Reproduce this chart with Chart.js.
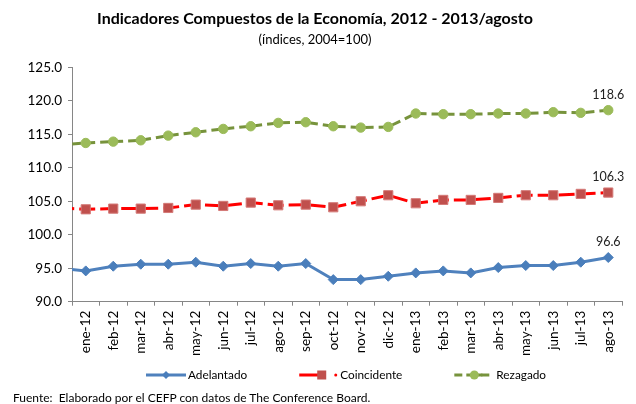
<!DOCTYPE html>
<html>
<head>
<meta charset="utf-8">
<script src="https://cdn.jsdelivr.net/npm/chart.js@4.4.0/dist/chart.umd.min.js"></script>
<style>
    html, body { margin: 0; padding: 0; background: #fff; }
    #wrap { position: relative; width: 636px; height: 404px; }
    #fuente {
        position: absolute; left: 13px; top: 390px;
        font: 12px Lato, sans-serif; color: #000; white-space: pre;
    }
</style>
</head>
<body>
<div id="wrap">
    <canvas id="indicadoresChart" width="636" height="404"></canvas>
    <div id="fuente">Fuente:  Elaborado por el CEFP con datos de The Conference Board.</div>
</div>
<script>
// datos (indices, 2004=100)
const meses = ['ene-12', 'feb-12', 'mar-12', 'abr-12', 'may-12', 'jun-12', 'jul-12', 'ago-12', 'sep-12', 'oct-12',
    'nov-12', 'dic-12', 'ene-13', 'feb-13', 'mar-13', 'abr-13', 'may-13', 'jun-13', 'jul-13', 'ago-13'];
const adelantado = [94.6, 95.3, 95.6, 95.6, 95.9, 95.3, 95.7, 95.3, 95.7, 93.3,
    93.3, 93.8, 94.3, 94.6, 94.3, 95.1, 95.4, 95.4, 95.9, 96.6];
const coincidente = [103.8, 103.9, 103.9, 104.0, 104.5, 104.3, 104.8, 104.4, 104.5, 104.1,
    105.0, 105.9, 104.7, 105.2, 105.2, 105.5, 105.9, 105.9, 106.1, 106.3];
const rezagado = [113.7, 113.9, 114.1, 114.8, 115.3, 115.8, 116.2, 116.7, 116.8, 116.2,
    116.0, 116.1, 118.1, 118.0, 118.0, 118.1, 118.1, 118.3, 118.2, 118.6];

// las lineas entran desde el eje: mes anterior, fuera del rango visible
const mesPrevio = 'dic-11';
const adelantadoPrevio = 95.0;
const coincidentePrevio = 104.0;
const rezagadoPrevio = 113.4;

const yMin = 90;
const yMax = 125;
const yPaso = 5;

const FONT = 'Lato, "Liberation Sans", sans-serif';

// leyenda estilo Excel: linea + marcador, luego el texto
function dibujarMuestra(g, tipo, x, y) {
    g.lineWidth = 3;
    if (tipo === 0) {
        g.strokeStyle = '#4F81BD';
        g.beginPath(); g.moveTo(x, y); g.lineTo(x + 40, y); g.stroke();
        g.fillStyle = '#4A7EBB';
        g.beginPath();
        g.moveTo(x + 20, y - 4); g.lineTo(x + 24, y); g.lineTo(x + 20, y + 4); g.lineTo(x + 16, y);
        g.closePath(); g.fill();
        return 42;
    }
    if (tipo === 1) {
        g.strokeStyle = '#FF0000';
        g.beginPath(); g.moveTo(x, y); g.lineTo(x + 24, y); g.stroke();
        g.fillStyle = '#C0504D';
        g.fillRect(x + 18, y - 4.5, 9, 9);
        g.fillStyle = '#FF0000';
        g.beginPath(); g.arc(x + 36.5, y, 1.5, 0, Math.PI * 2); g.fill();
        return 41;
    }
    g.strokeStyle = '#77933C';
    g.beginPath(); g.moveTo(x, y); g.lineTo(x + 8, y); g.stroke();
    g.beginPath(); g.moveTo(x + 27, y); g.lineTo(x + 35, y); g.stroke();
    g.beginPath(); g.moveTo(x + 12, y); g.lineTo(x + 28, y); g.stroke();
    g.fillStyle = '#9BBB59';
    g.beginPath(); g.arc(x + 20, y, 4.5, 0, Math.PI * 2); g.fill();
    return 42;
}

const leyendaPlugin = {
    id: 'leyendaExcel',
    afterDraw(chart) {
        const g = chart.ctx;
        const area = chart.chartArea;
        const y = chart.height - 29;
        let x = area.left + 74;
        g.save();
        g.font = '11.8px ' + FONT;
        g.textBaseline = 'middle';
        g.textAlign = 'left';
        chart.data.datasets.forEach((ds, i) => {
            const dx = dibujarMuestra(g, i, x, y);
            g.fillStyle = '#000';
            g.fillText(ds.label, x + dx, y);
            x += dx + g.measureText(ds.label).width + 52;
        });
        g.restore();
    }
};

// etiqueta del ultimo valor de cada serie
const ultimoValorPlugin = {
    id: 'ultimoValor',
    afterDatasetsDraw(chart) {
        const g = chart.ctx;
        g.save();
        g.font = '12.5px ' + FONT;
        g.fillStyle = '#222';
        g.textAlign = 'center';
        g.textBaseline = 'middle';
        chart.data.datasets.forEach((ds, i) => {
            const meta = chart.getDatasetMeta(i);
            const last = meta.data[meta.data.length - 1];
            const valor = ds.data[ds.data.length - 1];
            g.fillText(valor.toFixed(1), last.x, last.y - 15.5);
        });
        g.restore();
    }
};

const ctx = document.getElementById('indicadoresChart').getContext('2d');
new Chart(ctx, {
    type: 'line',
    data: {
        labels: [mesPrevio].concat(meses),
        datasets: [{
            label: 'Adelantado',
            data: [adelantadoPrevio].concat(adelantado),
            borderColor: '#4F81BD',
            borderWidth: 3,
            pointStyle: 'rectRot',
            pointRadius: 5,
            pointBackgroundColor: '#4A7EBB',
            pointBorderColor: '#4A7EBB',
            pointBorderWidth: 1,
            tension: 0
        }, {
            label: 'Coincidente',
            data: [coincidentePrevio].concat(coincidente),
            borderColor: '#FF0000',
            borderWidth: 3,
            borderDash: [16, 5],
            pointStyle: 'rect',
            pointRadius: 6.5,
            pointBackgroundColor: '#C0504D',
            pointBorderColor: '#D47A78',
            pointBorderWidth: 1,
            tension: 0
        }, {
            label: 'Rezagado',
            data: [rezagadoPrevio].concat(rezagado),
            borderColor: '#77933C',
            borderWidth: 3,
            borderDash: [9, 5],
            pointStyle: 'circle',
            pointRadius: 4.7,
            pointBackgroundColor: '#9BBB59',
            pointBorderColor: '#9BBB59',
            pointBorderWidth: 1,
            tension: 0
        }]
    },
    options: {
        responsive: false,
        animation: false,
        layout: {
            padding: { left: 8, right: 14, top: 0, bottom: 43 }
        },
        scales: {
            x: {
                min: meses[0],
                offset: true,
                border: { color: '#868686', width: 1 },
                grid: {
                    display: true,
                    drawOnChartArea: false,
                    offset: true,
                    tickLength: 4,
                    color: '#868686'
                },
                ticks: {
                    color: '#000',
                    font: { family: FONT, size: 13.5 },
                    minRotation: 90,
                    maxRotation: 90,
                    autoSkip: false,
                    padding: 5
                }
            },
            y: {
                min: yMin,
                max: yMax,
                afterFit: scale => { scale.width = 64; },
                border: { color: '#868686', width: 1 },
                grid: {
                    display: true,
                    drawOnChartArea: false,
                    tickLength: 4,
                    color: '#868686'
                },
                ticks: {
                    stepSize: yPaso,
                    color: '#000',
                    font: { family: FONT, size: 13.5 },
                    padding: 6,
                    callback: v => v.toFixed(1)
                }
            }
        },
        plugins: {
            title: {
                display: true,
                text: 'Indicadores Compuestos de la Economía, 2012 - 2013/agosto',
                color: '#000',
                font: { family: FONT, size: 16, weight: 'bold' },
                padding: { top: 9, bottom: 2 }
            },
            subtitle: {
                display: true,
                text: '(índices, 2004=100)',
                color: '#000',
                font: { family: FONT, size: 13 },
                padding: { top: 1.5, bottom: 20 }
            },
            legend: { display: false },
            tooltip: { enabled: false }
        }
    },
    plugins: [ultimoValorPlugin, leyendaPlugin]
});
</script>
</body>
</html>
